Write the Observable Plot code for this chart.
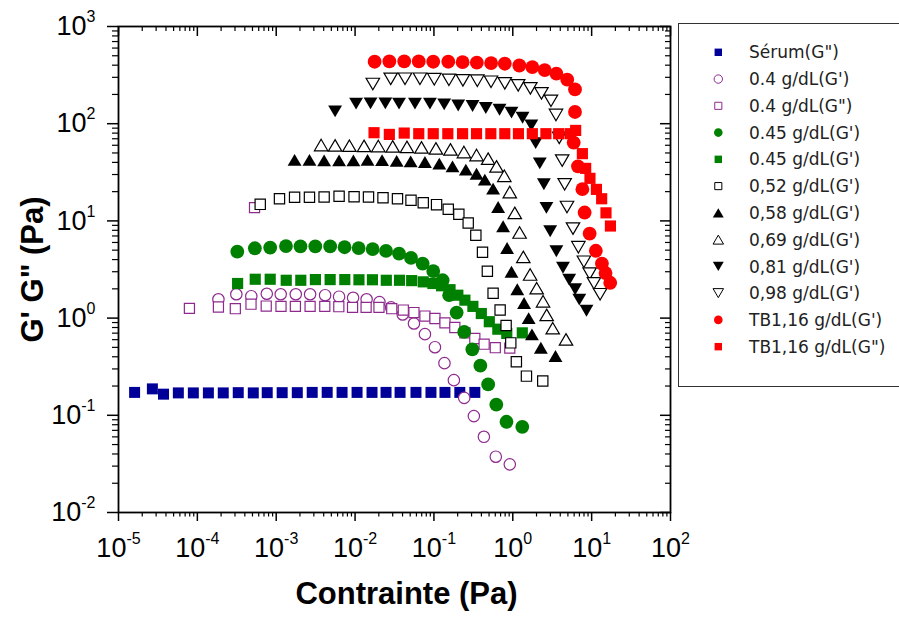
<!DOCTYPE html>
<html><head><meta charset="utf-8">
<script src="https://cdn.jsdelivr.net/npm/d3@7"></script>
<script src="https://cdn.jsdelivr.net/npm/@observablehq/plot@0.6"></script>
<style>
body{margin:0;background:#fff;}
#wrap{position:relative;width:899px;height:617px;overflow:hidden;background:#fff;}
#legend{position:absolute;left:678px;top:23px;}
</style></head><body><div id="wrap"></div>
<script>
// ---------- data (stress in Pa, modulus in Pa) ----------
const serumX = [1.60e-5, 2.69e-5, 3.72e-5, 5.74e-5, 8.89e-5, 1.38e-4, 2.13e-4, 3.30e-4, 5.12e-4, 7.69e-4, 1.19e-3, 1.85e-3, 2.86e-3, 4.43e-3, 6.84e-3, 0.0106, 0.0164, 0.0247, 0.0372, 0.0592, 0.0917, 0.138, 0.213, 0.330];
const serumY = [0.172, 0.187, 0.165, 0.170, 0.170, 0.170, 0.170, 0.171, 0.170, 0.171, 0.171, 0.171, 0.172, 0.172, 0.172, 0.172, 0.172, 0.172, 0.172, 0.172, 0.172, 0.172, 0.172, 0.172];

const c04GpX = [1.85e-4, 3.12e-4, 4.83e-4, 7.59e-4, 1.14e-3, 1.77e-3, 2.69e-3, 4.17e-3, 6.27e-3, 9.44e-3, 0.0140, 0.0204, 0.0286, 0.0402, 0.0558, 0.0769, 0.103, 0.136, 0.179, 0.242, 0.321, 0.430, 0.609, 0.916];
const c04GpY = [1.56, 1.76, 1.68, 1.78, 1.76, 1.76, 1.76, 1.72, 1.66, 1.62, 1.56, 1.46, 1.29, 1.09, 0.880, 0.684, 0.502, 0.344, 0.230, 0.151, 0.0981, 0.0601, 0.0375, 0.0313];

const c04GsX = [7.93e-5, 1.85e-4, 3.03e-4, 4.79e-4, 5.31e-4, 7.47e-4, 1.15e-3, 1.75e-3, 2.69e-3, 4.13e-3, 6.22e-3, 9.29e-3, 0.0138, 0.0201, 0.0292, 0.0409, 0.0558, 0.0769, 0.103, 0.138, 0.184, 0.247, 0.330, 0.433, 0.600, 0.916];
const c04GsY = [1.26, 1.30, 1.25, 1.39, 13.7, 1.33, 1.32, 1.32, 1.32, 1.32, 1.31, 1.29, 1.29, 1.29, 1.25, 1.21, 1.14, 1.05, 0.99, 0.893, 0.800, 0.705, 0.617, 0.539, 0.496, 0.491];

const c045GpX = [3.21e-4, 5.36e-4, 8.39e-4, 1.33e-3, 2.03e-3, 3.13e-3, 4.83e-3, 7.36e-3, 0.0111, 0.0167, 0.0247, 0.0361, 0.0512, 0.0719, 0.0980, 0.129, 0.156, 0.194, 0.242, 0.307, 0.388, 0.487, 0.618, 0.832, 1.32];
const c045GpY = [4.84, 5.23, 5.32, 5.51, 5.46, 5.46, 5.46, 5.36, 5.25, 5.13, 4.91, 4.61, 4.16, 3.64, 3.05, 2.45, 1.72, 1.14, 0.721, 0.477, 0.324, 0.208, 0.129, 0.0858, 0.0761];

const c045GsX = [3.24e-4, 5.42e-4, 8.39e-4, 1.34e-3, 2.05e-3, 3.14e-3, 4.83e-3, 7.41e-3, 0.0112, 0.0166, 0.0249, 0.0366, 0.0522, 0.0732, 0.0971, 0.125, 0.160, 0.201, 0.247, 0.312, 0.399, 0.504, 0.646, 0.839, 1.32];
const c045GsY = [2.27, 2.51, 2.51, 2.45, 2.45, 2.49, 2.49, 2.49, 2.48, 2.48, 2.45, 2.45, 2.43, 2.36, 2.27, 2.15, 1.96, 1.72, 1.53, 1.32, 1.115, 0.918, 0.769, 0.695, 0.705];

const c052X = [6.27e-4, 1.10e-3, 1.71e-3, 2.64e-3, 4.05e-3, 6.27e-3, 9.71e-3, 0.0148, 0.0226, 0.0345, 0.0512, 0.0732, 0.108, 0.152, 0.207, 0.272, 0.340, 0.413, 0.476, 0.563, 0.691, 0.823, 0.943, 1.11, 1.49, 2.40];
const c052Y = [14.8, 16.9, 17.5, 17.5, 17.6, 17.9, 17.7, 17.6, 17.3, 16.9, 16.3, 15.4, 14.7, 13.2, 11.7, 9.51, 7.11, 4.76, 3.03, 1.80, 1.21, 0.839, 0.556, 0.355, 0.253, 0.225];

const c058X = [1.71e-3, 2.64e-3, 4.05e-3, 6.27e-3, 9.52e-3, 0.0144, 0.0220, 0.0337, 0.0507, 0.0769, 0.117, 0.172, 0.254, 0.347, 0.442, 0.563, 0.652, 0.754, 0.847, 0.963, 1.14, 1.39, 1.59, 1.75, 2.27, 3.48];
const c058Y = [42.5, 42.5, 42.0, 42.0, 42.0, 42.5, 42.2, 41.5, 41.0, 40.3, 38.8, 36.4, 33.7, 30.6, 26.6, 21.5, 13.9, 8.80, 5.27, 3.00, 1.98, 1.43, 1.00, 0.680, 0.496, 0.408];

const c069X = [3.71e-3, 5.58e-3, 8.47e-3, 0.0130, 0.0197, 0.0300, 0.0455, 0.0695, 0.106, 0.162, 0.240, 0.347, 0.487, 0.622, 0.781, 0.916, 1.06, 1.22, 1.36, 1.66, 2.01, 2.42, 2.69, 3.21, 4.73];
const c069Y = [60.3, 59.8, 59.4, 59.1, 58.9, 58.4, 57.8, 57.1, 55.7, 54.4, 51.1, 47.6, 43.7, 36.4, 29.1, 19.8, 12.1, 7.60, 4.26, 2.81, 2.03, 1.49, 1.08, 0.787, 0.604];

const c081X = [5.58e-3, 0.0103, 0.0157, 0.0242, 0.0361, 0.0575, 0.0890, 0.135, 0.203, 0.309, 0.455, 0.679, 0.963, 1.33, 1.72, 1.95, 2.20, 2.48, 2.67, 2.98, 3.57, 4.33, 5.19, 6.18, 6.97, 8.60];
const c081Y = [134, 161, 162, 162, 161, 161, 161, 158, 154, 152, 145, 139, 130, 115, 96.1, 63.2, 39.1, 23.8, 13.6, 7.82, 4.87, 3.30, 2.48, 1.98, 1.55, 1.19];

const c098X = [0.0168, 0.0283, 0.0430, 0.0665, 0.101, 0.155, 0.233, 0.355, 0.530, 0.792, 1.17, 1.67, 2.31, 3.05, 3.53, 3.88, 4.23, 4.55, 4.87, 5.80, 6.79, 7.97, 9.43, 10.7, 12.8];
const c098Y = [256, 289, 290, 290, 287, 283, 279, 277, 270, 260, 248, 231, 205, 172, 123, 71.5, 41.7, 23.8, 13.9, 8.33, 5.36, 3.80, 2.87, 2.28, 1.76];

const tbGpX = [0.0177, 0.0272, 0.0420, 0.0642, 0.0980, 0.152, 0.231, 0.350, 0.531, 0.792, 1.21, 1.77, 2.54, 3.57, 4.90, 6.15, 6.15, 5.92, 6.71, 7.63, 8.15, 9.43, 11.3, 13.5, 15.0, 17.2];
const tbGpY = [434, 437, 437, 437, 434, 434, 430, 424, 420, 414, 397, 382, 356, 327, 284, 225, 132, 63.9, 36.4, 21.2, 12.2, 7.40, 4.93, 3.64, 2.91, 2.31];

const tbGsX = [0.0174, 0.0272, 0.0420, 0.0642, 0.0980, 0.150, 0.231, 0.347, 0.527, 0.792, 1.18, 1.77, 2.63, 3.82, 5.34, 6.27, 7.63, 8.40, 9.52, 11.5, 13.4, 15.2, 17.3];
const tbGsY = [80.8, 77.6, 80.1, 78.9, 78.9, 78.9, 78.9, 78.9, 78.9, 78.9, 78.9, 78.9, 78.9, 78.9, 78.9, 85.3, 49.2, 34.7, 27.4, 21.1, 16.9, 12.1, 8.86];

const legendLabels = ["Sérum(G\")", "0.4 g/dL(G')", "0.4 g/dL(G\")", "0.45 g/dL(G')", "0.45 g/dL(G')",
  "0,52 g/dL(G')", "0,58 g/dL(G')", "0,69 g/dL(G')", "0,81 g/dL(G')", "0,98 g/dL(G')",
  "TB1,16 g/dL(G')", "TB1,16 g/dL(G\")"];
const xMajor = [1e-5, 1e-4, 1e-3, 1e-2, 1e-1, 1e0, 1e1, 1e2];
const yMajor = [1e-2, 1e-1, 1e0, 1e1, 1e2, 1e3];
const xTitle = "Contrainte (Pa)";
const yTitle = "G' G\" (Pa)";

// ---------- symbols ----------
const triUp = {draw(ctx, size) { const r = Math.sqrt(size / Math.PI), w = r * 1.05, h = r * 0.9;
  ctx.moveTo(0, -h); ctx.lineTo(w, h); ctx.lineTo(-w, h); ctx.closePath(); }};
const triDown = {draw(ctx, size) { const r = Math.sqrt(size / Math.PI), w = r * 1.05, h = r * 0.9;
  ctx.moveTo(0, h); ctx.lineTo(w, -h); ctx.lineTo(-w, -h); ctx.closePath(); }};

const BLUE = "#000099", PURPLE = "#8e2a8e", GREEN = "#008000", RED = "#ff0000", BLACK = "#000";
const xs = [serumX, c04GpX, c04GsX, c045GpX, c045GsX, c052X, c058X, c069X, c081X, c098X, tbGpX, tbGsX];
const ys = [serumY, c04GpY, c04GsY, c045GpY, c045GsY, c052Y, c058Y, c069Y, c081Y, c098Y, tbGpY, tbGsY];
const styles = [
  {symbol: "square", fill: BLUE, stroke: "none", r: 6.2, lr: 4.2},
  {symbol: "circle", fill: "white", stroke: PURPLE, r: 5.7, lr: 4.2},
  {symbol: "square", fill: "white", stroke: PURPLE, r: 5.7, lr: 4.0},
  {symbol: "circle", fill: GREEN, stroke: "none", r: 6.9, lr: 4.3},
  {symbol: "square", fill: GREEN, stroke: "none", r: 6.3, lr: 4.2},
  {symbol: "square", fill: "white", stroke: BLACK, r: 5.8, lr: 4.0},
  {symbol: triUp, fill: BLACK, stroke: "none", r: 6.6, lr: 5.2},
  {symbol: triUp, fill: "white", stroke: BLACK, r: 6.4, lr: 5.0},
  {symbol: triDown, fill: BLACK, stroke: "none", r: 6.6, lr: 5.2},
  {symbol: triDown, fill: "white", stroke: BLACK, r: 6.4, lr: 5.0},
  {symbol: "circle", fill: RED, stroke: "none", r: 6.9, lr: 4.3},
  {symbol: "square", fill: RED, stroke: "none", r: 6.3, lr: 4.2}
];
const series = styles.map((s, i) => ({...s, label: legendLabels[i], data: xs[i].map((x, j) => ({x, y: ys[i][j]}))}));

// ---------- layout ----------
const W = 899, H = 617, mL = 118, mR = 229, mT = 26, mB = 105;
const pw = W - mL - mR, ph = H - mT - mB;
const minorOf = maj => maj.slice(0, -1).flatMap(p => [2, 3, 4, 5, 6, 7, 8, 9].map(k => k * p));
const xMinor = minorOf(xMajor), yMinor = minorOf(yMajor);
const fmt = d => "10^" + Math.round(Math.log10(d));

const chart = Plot.plot({
  width: W, height: H, marginLeft: mL, marginRight: mR, marginTop: mT, marginBottom: mB,
  x: {type: "log", domain: [1e-5, 1e2]},
  y: {type: "log", domain: [1e-2, 1e3]},
  style: {fontFamily: "Liberation Sans", color: "black", background: "white"},
  marks: [
    Plot.axisX(xMajor, {tickSize: 9, tickPadding: 16, tickFormat: fmt, fontSize: 27, label: null, strokeWidth: 1.5}),
    Plot.axisX(xMinor, {tickSize: 4.5, tickFormat: () => "", label: null, strokeWidth: 1.2}),
    Plot.axisY(yMajor, {tickSize: 11, tickPadding: 12, tickFormat: fmt, fontSize: 27, label: null, strokeWidth: 1.5}),
    Plot.axisY(yMinor, {tickSize: 6, tickFormat: () => "", label: null, strokeWidth: 1.2}),
    Plot.tickX(xMajor, {x: d => d, insetBottom: ph - 10, strokeWidth: 1.5}),
    Plot.tickX(xMinor, {x: d => d, insetBottom: ph - 5, strokeWidth: 1.2}),
    Plot.tickY(yMajor, {y: d => d, insetLeft: pw - 10, strokeWidth: 1.5}),
    Plot.tickY(yMinor, {y: d => d, insetLeft: pw - 5, strokeWidth: 1.2}),
    Plot.frame({stroke: "black", strokeWidth: 1.8}),
    ...series.map(s => Plot.dot(s.data, {x: "x", y: "y", symbol: s.symbol, r: s.r, fill: s.fill,
      stroke: s.stroke, strokeWidth: 1.2})),
    Plot.text([xTitle], {text: d => d, frameAnchor: "bottom", textAnchor: "middle", dy: 91, dx: 12, fontSize: 31, fontWeight: "bold", fontFamily: "Liberation Sans"}),
    Plot.text([yTitle], {text: d => d, frameAnchor: "left", textAnchor: "middle", dx: -85, rotate: -90, fontSize: 31, fontWeight: "bold", fontFamily: "Liberation Sans"})
  ]
});

// superscript exponents in tick labels
d3.select(chart).selectAll("text").each(function() {
  const m = /^10\^(-?\d+)$/.exec(this.textContent);
  if (!m) return;
  const t = d3.select(this); t.text(null);
  t.append("tspan").text("10");
  t.append("tspan").attr("dy", -13).attr("font-size", "16px").text(m[1]);
});

const wrap = document.getElementById("wrap");
wrap.appendChild(chart);

// ---------- legend ----------
const lg = d3.select(wrap).append("svg").attr("id", "legend").attr("width", 221).attr("height", 365);
lg.append("rect").attr("x", 0.5).attr("y", 0.5).attr("width", 260).attr("height", 363)
  .attr("fill", "white").attr("stroke", "#333").attr("stroke-width", 1);
const symMap = s => s === "circle" ? d3.symbolCircle : s === "square" ? d3.symbolSquare : s;
series.forEach((s, i) => {
  const cy = 29.3 + i * 26.76;
  lg.append("path").attr("transform", `translate(40.3,${cy})`)
    .attr("d", d3.symbol(symMap(s.symbol), Math.PI * s.lr * s.lr)())
    .attr("fill", s.fill).attr("stroke", s.stroke).attr("stroke-width", 1);
  lg.append("text").attr("x", 71).attr("y", cy).attr("dy", "0.36em")
    .attr("font-family", "DejaVu Sans").attr("font-size", 17).attr("fill", "#222").text(s.label);
});
</script></body></html>
